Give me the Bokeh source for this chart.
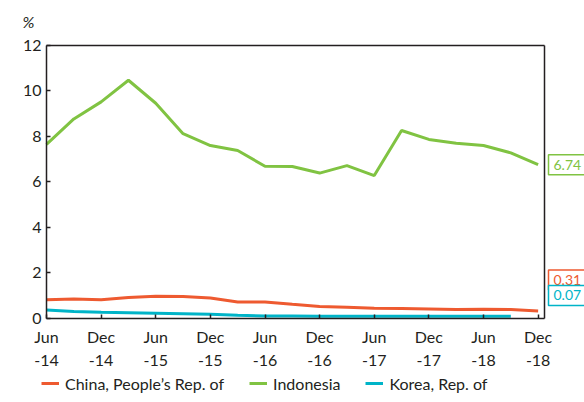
from bokeh.plotting import figure
from bokeh.models import FixedTicker, Legend, LegendItem, Label, Range1d, LinearAxis
from bokeh.embed import file_html
from bokeh.resources import INLINE

# ---- data (quarterly, Jun-14 .. Dec-18) ----
quarters = ["Jun-14", "Sep-14", "Dec-14", "Mar-15", "Jun-15", "Sep-15", "Dec-15",
            "Mar-16", "Jun-16", "Sep-16", "Dec-16", "Mar-17", "Jun-17", "Sep-17",
            "Dec-17", "Mar-18", "Jun-18", "Sep-18", "Dec-18"]
china = [0.80, 0.83, 0.80, 0.90, 0.96, 0.95, 0.88, 0.70, 0.70, 0.60, 0.51, 0.47,
         0.43, 0.42, 0.40, 0.37, 0.39, 0.37, 0.31]
indonesia = [7.63, 8.75, 9.50, 10.45, 9.44, 8.10, 7.58, 7.36, 6.67, 6.66, 6.37, 6.70,
             6.26, 8.24, 7.85, 7.68, 7.58, 7.26, 6.74]
korea = [0.35, 0.29, 0.25, 0.23, 0.21, 0.19, 0.16, 0.12, 0.09, 0.09, 0.08, 0.08,
         0.08, 0.08, 0.08, 0.08, 0.08, 0.08, float("nan")]
latest = {"China, People\u2019s Rep. of": 0.31, "Indonesia": 6.74, "Korea, Rep. of": 0.07}
tick_labels = ["Jun\n-14", "Dec\n-14", "Jun\n-15", "Dec\n-15", "Jun\n-16", "Dec\n-16",
               "Jun\n-17", "Dec\n-17", "Jun\n-18", "Dec\n-18"]
y_ticks = [0, 2, 4, 6, 8, 10, 12]

names = ["China, People\u2019s Rep. of", "Indonesia", "Korea, Rep. of"]
colors = ["#EE5A30", "#80C342", "#00B4C8"]
series = [china, indonesia, korea]

FONT = "Lato"
TXT = "#231F20"

x = [i * 3 for i in range(len(quarters))]  # months since Jun-14

# ---- layout: the frame fills the canvas; the boxed plot area sits inside ----
W, H = 584, 402
X_END, Y_END = 54.7, 12
BOX_L, BOX_R, BOX_T, BOX_B = 46, 544, 44.5, 317.5     # pixels
px_x = (BOX_R - BOX_L) / X_END
px_y = (BOX_B - BOX_T) / Y_END
x_rng = Range1d(-BOX_L / px_x, X_END + (W - BOX_R) / px_x)
y_rng = Range1d(-(H - BOX_B) / px_y, Y_END + BOX_T / px_y)

p = figure(width=W, height=H, output_backend="svg", toolbar_location=None,
           x_range=x_rng, y_range=y_rng, x_axis_type=None, y_axis_type=None,
           min_border=0)
p.grid.visible = False
p.outline_line_color = None
p.background_fill_color = "white"
p.border_fill_color = "white"

renderers = []
for name, col, ys in zip(names, colors, series):
    r = p.line(x, ys, line_color=col, line_width=3)
    renderers.append(r)


def style_axis(ax):
    ax.axis_line_color = TXT
    ax.axis_line_width = 1.5
    ax.major_tick_line_color = TXT
    ax.major_tick_line_width = 1.5
    ax.major_tick_in = 4
    ax.major_tick_out = 0
    ax.minor_tick_line_color = None
    ax.major_label_text_font = FONT
    ax.major_label_text_font_size = "16px"
    ax.major_label_text_color = TXT


tick_pos = [i * 6 for i in range(len(tick_labels))]
xaxis = LinearAxis(fixed_location=0, bounds=(0, X_END),
                   ticker=FixedTicker(ticks=tick_pos),
                   major_label_overrides={t: lab for t, lab in zip(tick_pos, tick_labels)})
style_axis(xaxis)
xaxis.major_label_standoff = 9
p.add_layout(xaxis, "below")

yaxis = LinearAxis(fixed_location=0, bounds=(0, Y_END), ticker=FixedTicker(ticks=y_ticks))
style_axis(yaxis)
yaxis.major_label_standoff = 5
p.add_layout(yaxis, "left")

# top and right frame lines
top = LinearAxis(fixed_location=Y_END, bounds=(0, X_END), ticker=FixedTicker(ticks=[]),
                 major_label_text_font_size="0px")
right = LinearAxis(fixed_location=X_END, bounds=(0, Y_END), ticker=FixedTicker(ticks=[]),
                   major_label_text_font_size="0px")
for ax in (top, right):
    ax.axis_line_color = TXT
    ax.axis_line_width = 1.5
    ax.major_tick_line_color = None
    ax.minor_tick_line_color = None
p.add_layout(top, "above")
p.add_layout(right, "right")

# "%" unit label
p.add_layout(Label(x=0, y=Y_END, x_offset=-24, y_offset=24, text="%",
                   text_font=FONT, text_font_size="16px", text_font_style="italic",
                   text_color=TXT, text_baseline="middle", text_align="left"))

# latest-value boxes
offsets = {"China, People\u2019s Rep. of": 31, "Indonesia": 0, "Korea, Rep. of": 21}
for name, col in zip(names, colors):
    p.add_layout(Label(x=X_END, y=latest[name], x_offset=4, y_offset=offsets[name],
                       text=f"{latest[name]:.2f}", text_font=FONT, text_font_size="14px",
                       text_color=col, text_baseline="middle", text_align="left",
                       border_line_color=col, border_line_width=1.5,
                       background_fill_color="white", padding=5))

legend = Legend(items=[LegendItem(label=n, renderers=[r]) for n, r in zip(names, renderers)],
                orientation="horizontal", location=(41, 9),
                label_text_font=FONT, label_text_font_size="16px", label_text_color=TXT,
                glyph_width=18, glyph_height=20, label_standoff=6, spacing=25,
                padding=0, margin=0, border_line_color=None, background_fill_alpha=0)
p.add_layout(legend, "center")

open("out.html", "w").write(file_html(p, INLINE))
